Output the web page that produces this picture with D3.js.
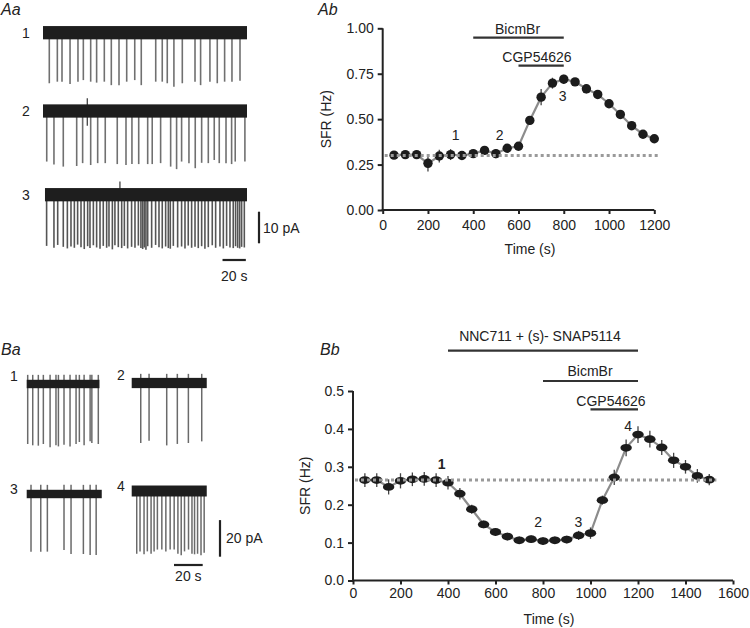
<!DOCTYPE html>
<html><head><meta charset="utf-8">
<script src="https://cdn.jsdelivr.net/npm/d3@7"></script>
<style>body{margin:0;background:#fff}svg{display:block;font-family:"Liberation Sans",Arial,sans-serif}</style>
</head><body><svg id="c" width="750" height="628"></svg>
<script>
// ---------- DATA ----------
// Ab: spontaneous firing rate (Hz) vs time (s)
const abTime = [50,100,150,200,250,300,350,400,450,500,550,600,650,700,750,800,850,900,950,1000,1050,1100,1150,1200];
const abSFR  = [0.302,0.305,0.305,0.257,0.297,0.305,0.300,0.310,0.328,0.310,0.340,0.351,0.493,0.621,0.698,0.720,0.705,0.667,0.636,0.585,0.526,0.464,0.417,0.392];
const abErr  = [0.02,0.02,0.02,0.045,0.035,0.03,0.02,0.02,0.02,0.025,0.02,0.02,0.025,0.045,0.03,0.025,0.02,0.025,0.025,0.02,0.02,0.02,0.02,0.02];
const abBaseline = 0.30;
const abTicksX = [0,200,400,600,800,1000,1200];
const abTicksY = [0,0.25,0.5,0.75,1.0];
const abDrugs = ["BicmBr","CGP54626"];
const abDrugStart = [400,600];
const abDrugEnd = [800,800];
const abMarkLabels = ["1","2","3"];
const abMarkTimes = [322,517,795];

// Bb
const bbTime = [50,100,150,200,250,300,350,400,450,500,550,600,650,700,750,800,850,900,950,1000,1050,1100,1150,1200,1250,1300,1350,1400,1450,1500];
const bbSFR  = [0.265,0.265,0.247,0.263,0.267,0.268,0.265,0.258,0.229,0.188,0.148,0.128,0.116,0.106,0.109,0.104,0.106,0.108,0.119,0.125,0.212,0.272,0.350,0.385,0.373,0.351,0.317,0.300,0.276,0.266];
const bbErr  = [0.018,0.018,0.02,0.02,0.018,0.018,0.018,0.018,0.015,0.012,0.01,0.01,0.01,0.01,0.01,0.01,0.01,0.01,0.012,0.015,0.012,0.02,0.022,0.022,0.022,0.02,0.02,0.018,0.018,0.015];
const bbBaseline = 0.265;
const bbTicksX = [0,200,400,600,800,1000,1200,1400,1600];
const bbTicksY = [0,0.1,0.2,0.3,0.4,0.5];
const bbDrugs = ["NNC711 + (s)- SNAP5114","BicmBr","CGP54626"];
const bbDrugStart = [400,800,1000];
const bbDrugEnd = [1200,1200,1200];
const bbMarkLabels = ["1","2","3","4"];
const bbMarkTimes = [373,780,949,1159];

// Aa: current traces, spike times (s) and amplitudes (pA)
const aaSpikeTimes = [
 [5.4,12.3,16.3,23.2,30.0,34.6,40.9,46.0,52.6,58.6,65.2,71.8,78.7,84.3,96.7,102.3,106.6,112.3,119.5,130.4,135.2,143.2,149.5,155.8,162.1,169.0],
 [3.2,9.4,17.4,28.9,34.0,40.9,46.9,53.4,63.7,71.2,76.3,82.1,89.8,93.7,100.9,109.5,114.6,118.9,125.2,130.6,136.1,141.8,146.9,151.2,157.0,161.8,164.9,173.2],
 [3.1,9.4,12.6,17.4,20.9,24.0,26.9,29.7,32.6,35.4,38.3,40.3,43.2,46.0,48.9,51.7,54.6,56.6,59.5,61.7,64.6,67.5,69.8,72.6,76.0,78.9,81.8,84.0,85.5,86.9,88.3,89.8,93.2,96.6,99.5,102.3,105.2,107.5,109.2,111.8,115.5,118.9,121.8,124.6,127.5,130.4,133.2,136.1,138.9,141.8,145.2,148.1,151.8,154.7,157.5,160.4,163.2,165.2,167.0,168.7,170.4,172.7]
];
const aaSpikeAmps = [
 [16.0,15.5,15.5,16.2,15.5,15.0,15.5,15.8,15.5,16.6,16.6,15.5,15.0,16.6,15.5,15.5,16.0,17.1,16.0,15.5,16.6,15.5,16.0,15.5,15.5,15.2],
 [16.0,16.9,17.6,17.4,16.5,17.1,16.5,16.5,16.8,17.1,16.8,16.8,16.8,16.8,16.5,17.6,18.4,16.0,16.5,18.1,16.4,16.5,15.5,16.5,16.5,16.8,16.0,16.0],
 [16.2,16.8,15.9,16.5,17.0,16.4,16.8,15.8,16.6,17.2,16.3,16.9,16.0,16.7,17.1,16.2,16.8,16.4,17.3,16.0,16.6,16.9,16.2,17.0,16.5,16.8,16.1,16.9,17.2,16.7,17.4,16.3,16.8,15.9,16.6,17.0,16.4,16.9,17.1,16.2,16.7,16.4,17.0,16.1,16.8,16.5,16.9,16.3,17.1,16.6,16.0,16.8,16.4,17.0,16.2,16.7,16.9,16.3,16.8,17.0,16.5,16.7]
];
const aaLabels = ["1","2","3"];
// artifacts: [trace, time, up pA, down pA]
const aaArtifacts = [[1,38,4.0,4.7],[2,66,4.2,0]];

// Ba
const baSpikeTimes = [
 [0.7,4.2,8.1,11.6,16.3,20.4,22.1,26.0,30.2,34.4,36.7,40.0,44.2,45.4,49.9],
 [6.3,12.1,24.4,31.8,39.5,48.8],
 [3.0,9.8,14.4,26.0,30.9,39.5,44.2,48.4],
 [3.5,5.8,8.6,10.9,13.5,15.6,17.9,21.0,23.8,26.8,29.6,32.2,34.5,36.8,39.6,42.0,43.8,45.9,48.3,50.5]
];
const baSpikeAmps = [
 [32.8,33.5,33.7,32.8,34.6,33.5,34.1,33.2,34.1,32.8,31.7,33.5,31.3,32.2,32.8],
 [32.8,31.5,34.1,33.3,32.8,31.9],
 [31.5,31.5,31.5,30.6,32.8,32.8,33.3,33.3],
 [34.3,33.0,34.6,33.0,34.3,33.0,32.0,32.0,33.0,32.0,32.0,34.3,35.1,33.0,32.0,34.3,34.6,34.3,35.1,33.7]
];
const baLabels = ["1","2","3","4"];

// ---------- DRAW ----------
const svg = d3.select("#c");
const ink = "#222";
const txt = (x,y,s,o={}) => svg.append("text").attr("x",x).attr("y",y).attr("fill",o.fill||ink)
  .attr("font-size",o.size||14).attr("text-anchor",o.anchor||"middle")
  .attr("font-style",o.italic?"italic":null).attr("font-weight",o.bold?"bold":null).text(s);

// panel labels
txt(1,15,"Aa",{size:16,italic:true,anchor:"start"});
txt(318,15,"Ab",{size:16,italic:true,anchor:"start"});
txt(1,355,"Ba",{size:16,italic:true,anchor:"start"});
txt(320,355,"Bb",{size:16,italic:true,anchor:"start"});

// ----- Aa traces -----
const aaX = d3.scaleLinear().domain([0,175]).range([43,247]);
const aaPxPerPA = 3.16;
const aaCenters = [32.7,111,194.7];
aaCenters.forEach((c,i)=>{
  const y = d3.scaleLinear().domain([0,-10]).range([c,c+10*aaPxPerPA]);
  const g = svg.append("g");
  g.selectAll("line").data(aaSpikeTimes[i]).join("line")
    .attr("x1",t=>aaX(t)).attr("x2",t=>aaX(t))
    .attr("y1",y(0)).attr("y2",(t,j)=>y(-aaSpikeAmps[i][j]))
    .attr("stroke",i===2?"#555":"#707070").attr("stroke-width",1.6);
  aaArtifacts.filter(a=>a[0]===i).forEach(a=>{
    g.append("line").attr("x1",aaX(a[1])).attr("x2",aaX(a[1]))
     .attr("y1",y(a[2])).attr("y2",y(-a[3])).attr("stroke","#444").attr("stroke-width",1.3);
  });
  const x0 = i===2?aaX(1.7):aaX(0);
  g.append("rect").attr("x",x0).attr("width",aaX(175)-x0)
    .attr("y",y(2.1)).attr("height",y(-2.1)-y(2.1)).attr("fill","#1e1e1e");
  txt(26,c+5,aaLabels[i]);
});
// Aa scale bars
{
  const yS = d3.scaleLinear().domain([0,10]).range([243.3,243.3-10*aaPxPerPA]);
  svg.append("line").attr("x1",259).attr("x2",259).attr("y1",yS(0)).attr("y2",yS(10)).attr("stroke",ink).attr("stroke-width",2.2);
  txt(263,233,"10 pA",{anchor:"start"});
  svg.append("line").attr("x1",aaX(154)).attr("x2",aaX(174)).attr("y1",260).attr("y2",260).attr("stroke",ink).attr("stroke-width",2.2);
  txt((aaX(154)+aaX(174))/2,281,"20 s");
}

// ----- Ba traces -----
const baX0 = [26.7,131.7,26.7,131.7];
const baPxPerS = 1.435, baPxPerPA = 1.83;
const baCenters = [384,383,494,491];
const baHalf = [2.3,2.8,2.3,3.0];
baCenters.forEach((c,i)=>{
  const x = d3.scaleLinear().domain([0,52]).range([baX0[i],baX0[i]+52*baPxPerS]);
  const y = d3.scaleLinear().domain([0,-10]).range([c,c+10*baPxPerPA]);
  const g = svg.append("g");
  g.selectAll("line").data(baSpikeTimes[i]).join("line")
    .attr("x1",t=>x(t)).attr("x2",t=>x(t))
    .attr("y1",y(i===3?0:5)).attr("y2",(t,j)=>y(-baSpikeAmps[i][j]))
    .attr("stroke","#6a6a6a").attr("stroke-width",1.5);
  const w = i===0?50.7:52.3;
  g.append("rect").attr("x",x(0)).attr("width",x(w)-x(0))
    .attr("y",y(baHalf[i])).attr("height",y(-baHalf[i])-y(baHalf[i])).attr("fill","#1e1e1e");
  txt(i%2===0?14:121,c+(i<2?-4:-1)+1,baLabels[i]);
});
{
  svg.append("line").attr("x1",220).attr("x2",220).attr("y1",556.7).attr("y2",556.7-20*baPxPerPA).attr("stroke",ink).attr("stroke-width",2.2);
  txt(226,543,"20 pA",{anchor:"start"});
  svg.append("line").attr("x1",174).attr("x2",174+20*baPxPerS).attr("y1",565).attr("y2",565).attr("stroke",ink).attr("stroke-width",2.2);
  txt(174+10*baPxPerS,581,"20 s");
}

// ----- generic SFR plot -----
function sfrPlot(o){
  const x = d3.scaleLinear().domain(o.xdom).range(o.xr);
  const y = d3.scaleLinear().domain(o.ydom).range(o.yr);
  const gx = svg.append("g").attr("transform",`translate(0,${o.yr[0]})`)
    .call(d3.axisBottom(x).tickValues(o.ticksX).tickFormat(d3.format("d")).tickSize(4).tickPadding(o.padX).tickSizeOuter(0));
  const gy = svg.append("g").attr("transform",`translate(${o.xr[0]},0)`)
    .call(d3.axisLeft(y).tickValues(o.ticksY).tickFormat(d3.format(o.fmt)).tickSize(5).tickPadding(4).tickSizeOuter(0));
  [gx,gy].forEach(g=>{
    g.selectAll("path,line").attr("stroke",ink).attr("stroke-width",2);
    g.selectAll("text").attr("font-size",14).attr("fill",ink).attr("font-family","Liberation Sans, Arial, sans-serif");
  });
  gx.select(".domain").attr("d",`M${o.xr[0]-1},0H${o.xr[1]}`);
  gy.select(".domain").attr("d",`M0,${o.yr[0]+1}V${o.yr[1]}`);
  txt(o.xlabX,o.xlabY,"Time (s)");
  svg.append("text").attr("transform",`translate(${o.ylabX},${(o.yr[0]+o.yr[1])/2}) rotate(-90)`)
    .attr("text-anchor","middle").attr("font-size",14).attr("fill",ink).text("SFR (Hz)");
  // drug bars
  o.drugs.forEach((d,i)=>{
    svg.append("line").attr("x1",x(o.ds[i])).attr("x2",x(o.de[i])).attr("y1",o.barY[i]).attr("y2",o.barY[i])
      .attr("stroke","#333").attr("stroke-width",2.2);
    txt(o.labX[i],o.labY[i],d);
  });
  // connecting line
  svg.append("path").datum(o.t.map((t,i)=>[t,o.v[i]]))
    .attr("d",d3.line().x(d=>x(d[0])).y(d=>y(d[1])))
    .attr("fill","none").attr("stroke","#8c8c8c").attr("stroke-width",2.2);
  // error bars
  svg.append("g").selectAll("line").data(o.t).join("line")
    .attr("x1",t=>x(t)).attr("x2",t=>x(t))
    .attr("y1",(t,i)=>y(o.v[i]-o.e[i])).attr("y2",(t,i)=>y(o.v[i]+o.e[i]))
    .attr("stroke","#444").attr("stroke-width",1.3);
  // markers
  svg.append("g").selectAll("ellipse").data(o.t).join("ellipse")
    .attr("cx",t=>x(t)).attr("cy",(t,i)=>y(o.v[i])).attr("rx",o.rx).attr("ry",o.ry).attr("fill","#1c1c1c");
  // baseline dotted
  svg.append("line").attr("x1",x(0)+2).attr("x2",x(o.dotEnd)).attr("y1",y(o.base)).attr("y2",y(o.base))
    .attr("stroke","#9a9a9a").attr("stroke-width",3).attr("stroke-dasharray","3,3");
  // marks
  o.marks.forEach((m,i)=>txt(x(o.markT[i]),o.markY[i],m,{bold:o.boldFirst&&i===0}));
}

sfrPlot({xdom:[0,1200],xr:[382.7,654.3],ydom:[0,1],yr:[210,28.3],ticksX:abTicksX,ticksY:abTicksY,fmt:".2f",padX:6,
  xlabX:530,xlabY:254,ylabX:331,
  drugs:abDrugs,ds:abDrugStart,de:abDrugEnd,barY:[37.7,65.7],labX:[517.5,537],labY:[33.5,61.5],
  t:abTime,v:abSFR,e:abErr,rx:4.7,ry:4.7,base:abBaseline,dotEnd:1220,
  marks:abMarkLabels,markT:abMarkTimes,markY:[140,140,101]});

sfrPlot({xdom:[0,1600],xr:[353,733],ydom:[0,0.5],yr:[580.5,391],ticksX:bbTicksX,ticksY:bbTicksY,fmt:".1f",padX:4,
  xlabX:549,xlabY:624,ylabX:310,
  drugs:bbDrugs,ds:bbDrugStart,de:bbDrugEnd,barY:[350.7,381,409.3],labX:[540,590,611],labY:[341,376,406],
  t:bbTime,v:bbSFR,e:bbErr,rx:5.7,ry:3.9,base:bbBaseline,dotEnd:1530,
  marks:bbMarkLabels,markT:bbMarkTimes,markY:[469,527,527,431],boldFirst:true});
</script></body></html>
